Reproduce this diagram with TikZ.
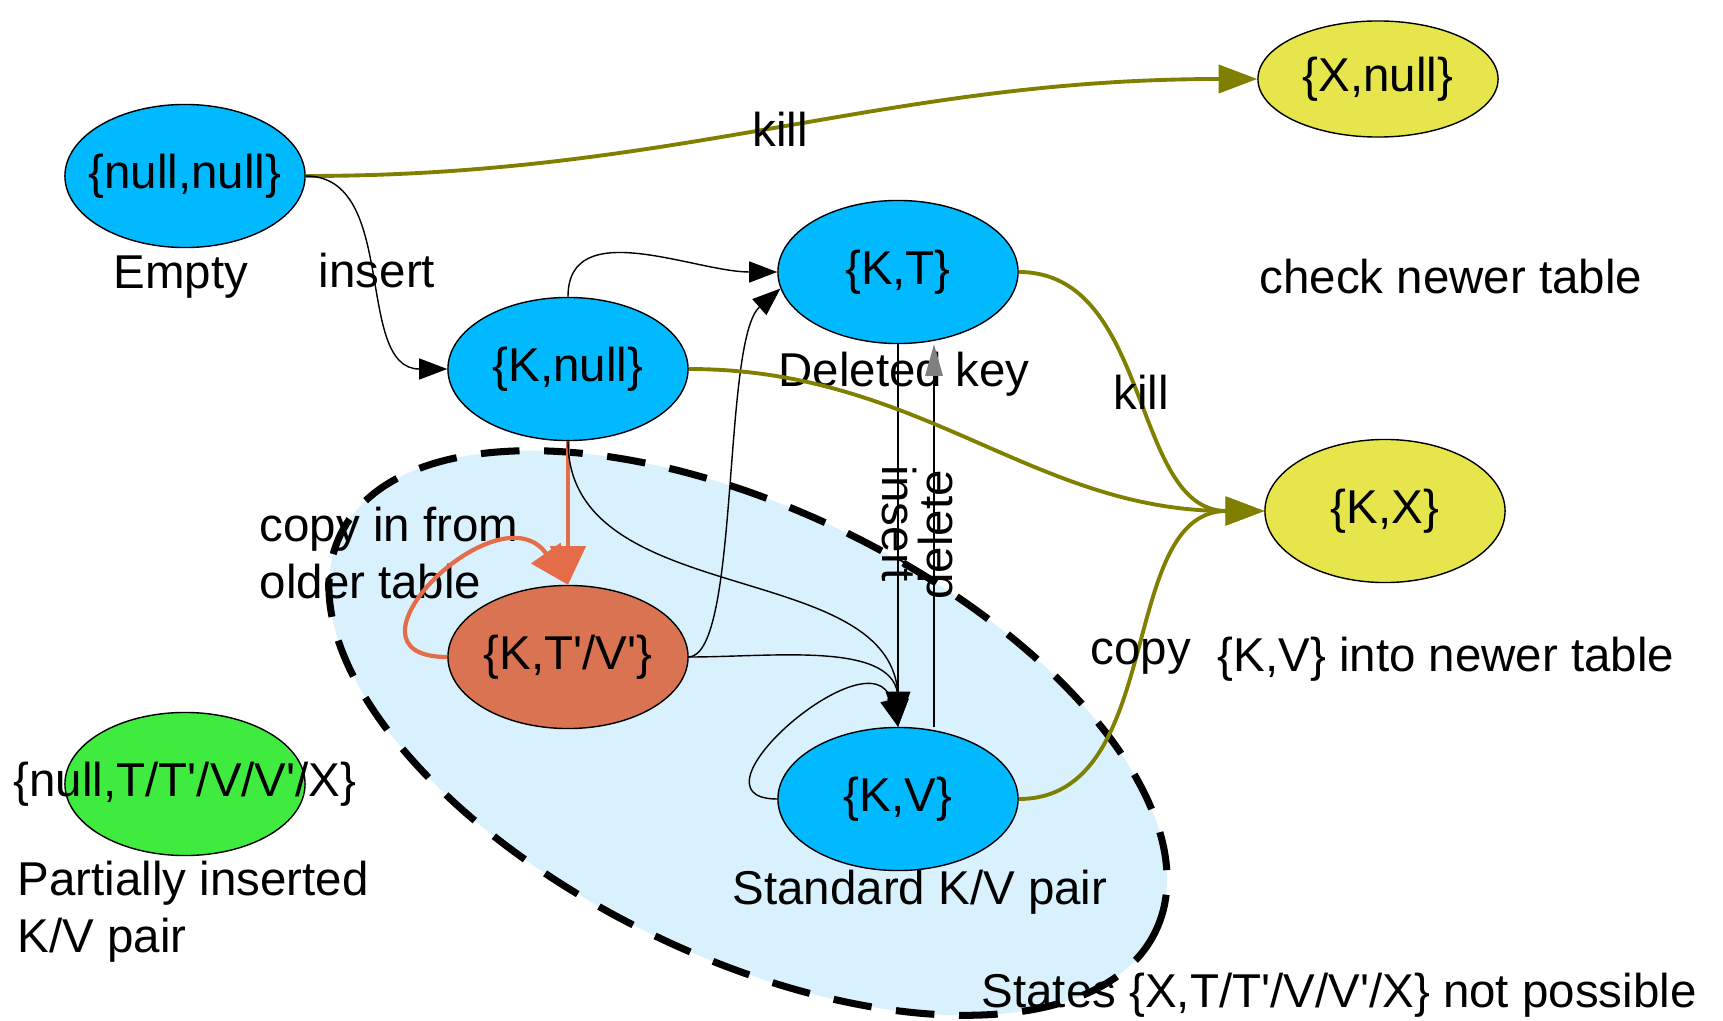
\documentclass[tikz,border=0pt]{standalone}
\usepackage{fontspec}
\newfontfamily\arialfont{Liberation Sans}
\usepackage{tikz}
\usetikzlibrary{
  arrows.meta,%
  shapes.geometric,%
  positioning
}
\definecolor{stateblue}{RGB}{0,185,255}
\definecolor{killyellow}{RGB}{230,230,76}
\definecolor{copyorange}{RGB}{217,115,82}
\definecolor{partgreen}{RGB}{64,235,64}
\definecolor{killolive}{RGB}{128,128,0}
\definecolor{lineorange}{RGB}{228,108,72}
\definecolor{regionblue}{RGB}{217,241,252}
\tikzset{>={Triangle[length=8pt,width=6pt]}}
\tikzset{font=\arialfont\fontsize{13.5}{16.2}\selectfont}

\begin{document}
\begin{tikzpicture}[x=0.01cm, y=0.01cm,
    kvstate/.style={ellipse, draw=black, line width=0.4pt,
      minimum width=2.4cm, minimum height=1.43cm, inner ysep=0pt, inner xsep=-0.3cm},
    lbl/.style={inner sep=0pt},
    thinedge/.style={->, black, line width=0.4pt},
    killedge/.style={-{Triangle[length=11pt,width=8pt]}, killolive, line width=1.1pt},
    orangeedge/.style={-{Triangle[length=11pt,width=10pt]}, lineorange, line width=1.2pt},
    deledge/.style={-{Triangle[length=9pt,width=5pt,color=gray]}, black, line width=0.4pt}]
  \useasboundingbox (0,0) rectangle (1723,-1021);

  % states where a key is set
  \draw[fill=regionblue, line width=2pt, dash pattern=on 11pt off 7pt,
    rotate around={-26:(748,-733)}] (748,-733) ellipse [x radius=4.53cm, y radius=2.23cm];

  % states
  \node[kvstate, fill=stateblue] (nn) at (185,-176) {\{null,null\}};
  \node[kvstate, fill=killyellow, minimum height=1.16cm] (xn) at (1378,-79) {\{X,null\}};
  \node[kvstate, fill=stateblue] (kt) at (898,-272) {\{K,T\}};
  \node[kvstate, fill=stateblue] (kn) at (568,-369) {\{K,null\}};
  \node[kvstate, fill=killyellow] (kx) at (1385,-511) {\{K,X\}};
  \node[kvstate, fill=copyorange] (ktv) at (568,-657) {\{K,T'/V'\}};
  \node[kvstate, fill=stateblue] (kv) at (898,-799) {\{K,V\}};
  \node[kvstate, fill=partgreen] (part) at (185,-784) {};
  \node (partt) at (part) {\{null,T/T'/V/V'/X\}};

  % captions
  \node (empty) at (181,-277) {Empty};
  \node (checknewer) at (1451,-277) {check newer table};
  \node (stdpair) at (920,-892) {Standard K/V pair};
  \node[lbl, align=left, anchor=west] (partlbl) at (17,-912) {Partially inserted\\K/V pair};
  \node[lbl, align=left, anchor=west] (copyin) at (259,-553) {copy in from\\older table};
  \node[lbl, anchor=west] (notposs) at (981,-995) {States \{X,T/T'/V/V'/X\} not possible};
  \node (copynew) at (1446,-659) {\{K,V\} into newer table};
  \node (delkey) at (904,-374) {Deleted key};

  % transitions
  \draw[killedge] (nn.east) to[out=0, in=180] (xn.west);
  \node (kill1) at (780,-129) {kill};
  \draw[thinedge] (nn.east) to[out=0, in=180] (kn.west);
  \node (ins1) at (377,-271) {insert};
  \draw[thinedge] (kn.north) to[out=90, in=180] (kt.west);
  \draw[thinedge] (ktv.east) .. controls (740,-655) and (722,-340) .. (kt.188);
  \draw[orangeedge] (kn.south) -- (ktv.north);
  \draw[orangeedge] (ktv.west) to[out=180, in=125, looseness=2.2] (ktv.north);
  \draw[thinedge] (kn.south) to[out=270, in=90] (kv.north);
  \draw[thinedge] (ktv.east) to[out=0, in=90] (kv.north);
  \draw[thinedge] (kv.west) to[out=180, in=105, looseness=1.8] (kv.north);
  \draw[thinedge, -{Triangle[length=10pt,width=7pt]}] (kt.south) -- (kv.north);
  \draw[deledge] ([xshift=0.36cm]kv.north) -- ([xshift=0.36cm]kt.south);
  \node[rotate=-90] (ins2) at (899,-524) {insert};
  \node[rotate=90] (del) at (936,-535) {delete};
  \draw[killedge] (kn.east) to[out=0, in=180] (kx.west);
  \draw[killedge] (kt.east) to[out=0, in=180] (kx.west);
  \node (kill2) at (1141,-392) {kill};
  \draw[killedge] (kv.east) to[out=0, in=180] (kx.west);
  \node (copy) at (1141,-657) {copy};
\end{tikzpicture}
\end{document}
